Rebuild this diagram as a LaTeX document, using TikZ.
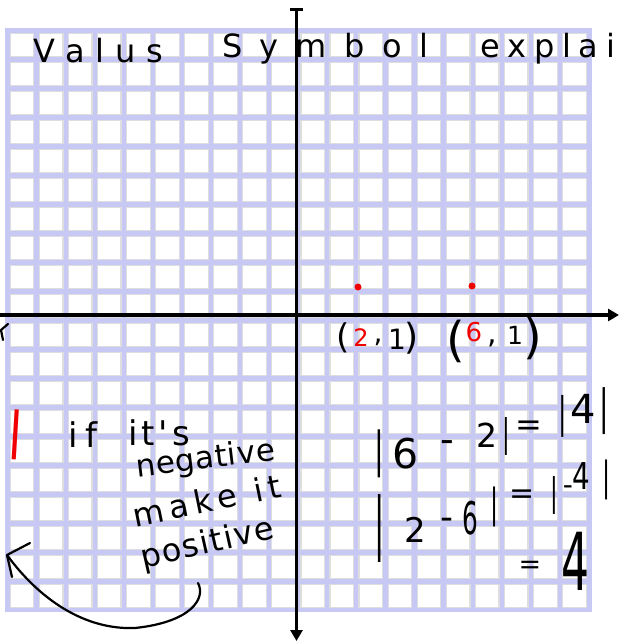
\documentclass[tikz,border=0pt]{standalone}
\usepackage{fontspec}
\usepackage{graphicx}
\usetikzlibrary{arrows.meta}
\newfontfamily\hand{DejaVu Sans}
\definecolor{lav}{RGB}{200,200,245}
\definecolor{cellgray}{RGB}{222,222,222}
\definecolor{inkred}{RGB}{240,0,0}
\tikzset{
  hw/.style={inner sep=0pt,outer sep=0pt,text=black},
  axisline/.style={line width=3.6pt,black},
  ink/.style={line width=2.2pt,black,line cap=round,line join=round},
  reddot/.style={circle,fill=inkred,minimum size=7pt,inner sep=0pt}
}
\newcommand\G[6][]{\node[hw,font=\hand\fontsize{#5}{#5}\selectfont,#1] (#2) at (#3,#4) {#6};}
\newcommand\W[7][]{\node[hw,anchor=base west,font=\hand\fontsize{#5}{#5}\selectfont,#1] (#2) at (#3,#4) {\makebox[#6pt]{#7}};}
\newcommand\thinbar{\scalebox{0.6}[1]{|}}
\begin{document}
\begin{tikzpicture}[x=1pt,y=-1pt]
\useasboundingbox (0,0) rectangle (620,641);
\fill[white] (0,0) rectangle (620,641);
% grid
\fill[lav] (5,28) rectangle (592,612);
\foreach \i in {0,...,19}{\foreach \j in {0,...,19}{
  \filldraw[fill=white,draw=cellgray,line width=1.2pt]
    ({7.5+29.07*\i+2.7},{30.5+29*\j+2.7}) rectangle ({7.5+29.07*(\i+1)-2.7},{30.5+29*(\j+1)-2.7});
}}
% axes
\coordinate (ytop) at (296.5,9);
\coordinate (ybot) at (296.5,641);
\coordinate (xl) at (0,315);
\coordinate (xr) at (619,315);
\coordinate (capl) at (290,9);
\coordinate (capr) at (303,9);
\draw[axisline,-{Triangle[length=11pt,width=12pt]}] (ytop) -- (ybot);
\draw[axisline,-{Triangle[length=11pt,width=12pt]}] (xl) -- (xr);
\draw[line width=3pt] (capl) -- (capr);
\draw[ink] (8,324) -- (1,330) -- (3,340);
% title
\W{t1}{33}{62}{32}{130}{V\hfill a\hfill l\hfill u\hfill s}
\W{t2}{222}{57}{32}{206}{S\hfill y\hfill m\hfill b\hfill o\hfill l}
\W{t3}{480}{57}{32}{135}{e\hfill x\hfill p\hfill l\hfill a\hfill i}
% points
\node[reddot] (p2) at (358,287) {};
\node[reddot] (p6) at (472,286) {};
\G{a1}{343}{338}{34}{(}
\G{a2}{361}{338}{24}{\textcolor{inkred}{2}}
\G{a3}{378}{342}{28}{,}
\G{a4}{397}{339}{28}{1}
\G{a5}{412}{338}{36}{)}
\G{b1}{456}{341}{48}{(}
\G{b2}{474}{332}{26}{\textcolor{inkred}{6}}
\G{b3}{492}{343}{30}{,}
\G{b4}{515}{335}{25}{1}
\G{b5}{533}{338}{48}{)}
% left words
\G[text=inkred,rotate=-3.5]{rbar}{16}{435}{50}{|}
\W{w1}{68}{447}{34}{29}{i\hfill f}
\W{w2}{128}{445}{34}{62}{i\hfill t\hfill '\hfill s}
\W[rotate=7]{w3}{137}{477}{31}{140}{n\hfill e\hfill g\hfill a\hfill t\hfill i\hfill v\hfill e}
\W[rotate=11.5]{w4}{135}{527}{32}{151}{m\hfill a\hfill k\hfill e\hfill\hfill\hfill i\hfill t}
\W[rotate=12.7]{w5}{143}{568}{32}{136}{p\hfill o\hfill s\hfill i\hfill t\hfill i\hfill v\hfill e}
% curved arrow
\coordinate (cs) at (198,583);
\coordinate (ct) at (7,555);
\coordinate (ha) at (30,543);
\coordinate (hb) at (12,577);
\draw[ink] (cs) .. controls (206,598) and (192,622) .. (135,628) .. controls (85,630) and (40,600) .. (ct);
\draw[ink] (ha) -- (ct) -- (hb);
% row 1
\G{r1a}{379}{454}{48}{\thinbar}
\G{r1b}{406}{454}{41}{6}
\G{r1c}{447}{447}{38}{-}
\G{r1d}{487}{435}{33}{2}
\G{r1e}{506}{436}{38}{\thinbar}
\G{r1f}{529}{428}{32}{=}
\G{r1g}{563}{416}{42}{\thinbar}
\G{r1h}{583}{409}{40}{4}
\G{r1i}{604}{411}{47}{\thinbar}
% row 2
\G{r2a}{380}{529}{68}{\scalebox{0.45}[1]{|}}
\G{r2b}{415}{530}{34}{2}
\G{r2c}{447}{524}{36}{-}
\G{r2d}{470}{518}{45}{\scalebox{0.55}[1]{6}}
\G{r2e}{495}{507}{40}{\thinbar}
\G{r2f}{522}{497}{30}{=}
\G{r2g}{554}{495}{38}{\thinbar}
\G{r2h}{568}{490}{28}{-}
\G{r2i}{581}{476}{37}{\scalebox{0.75}[1]{4}}
\G{r2j}{607}{480}{40}{\thinbar}
% row 3
\G{r3a}{530}{567}{27}{=}
\G{r3b}{575}{561}{80}{\scalebox{0.55}[1]{4}}
\end{tikzpicture}
\end{document}
